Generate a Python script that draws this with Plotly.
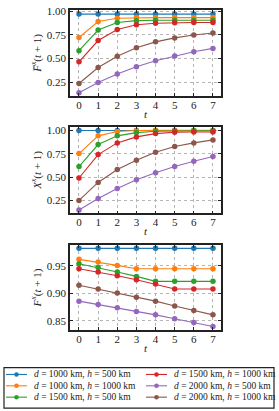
import plotly.graph_objects as go

W, H = 279, 411

t = [0, 1, 2, 3, 4, 5, 6, 7]

labels = [
    "<i>d</i> = 1000 km, <i>h</i> = 500 km",
    "<i>d</i> = 1000 km, <i>h</i> = 1000 km",
    "<i>d</i> = 1500 km, <i>h</i> = 500 km",
    "<i>d</i> = 1500 km, <i>h</i> = 1000 km",
    "<i>d</i> = 2000 km, <i>h</i> = 500 km",
    "<i>d</i> = 2000 km, <i>h</i> = 1000 km",
]
colors = ["#1f77b4", "#ff7f0e", "#2ca02c", "#d62728", "#9467bd", "#8c564b"]

# Panel 1: F-bar^x(t+1)
fbar_blue = [0.968, 0.968, 0.968, 0.968, 0.968, 0.968, 0.968, 0.968]
fbar_orange = [0.721, 0.890, 0.925, 0.931, 0.931, 0.931, 0.931, 0.931]
fbar_green = [0.582, 0.800, 0.879, 0.899, 0.903, 0.903, 0.903, 0.903]
fbar_red = [0.464, 0.689, 0.806, 0.855, 0.872, 0.878, 0.879, 0.879]
fbar_purple = [0.139, 0.247, 0.336, 0.412, 0.475, 0.527, 0.571, 0.606]
fbar_brown = [0.236, 0.404, 0.523, 0.613, 0.675, 0.717, 0.748, 0.768]

# Panel 2: X^x(t+1)
x_blue = [0.998, 0.998, 0.998, 0.998, 0.998, 0.998, 0.998, 0.998]
x_orange = [0.751, 0.940, 0.986, 0.997, 0.999, 0.999, 0.999, 0.999]
x_green = [0.612, 0.847, 0.940, 0.975, 0.989, 0.993, 0.994, 0.994]
x_red = [0.490, 0.740, 0.865, 0.929, 0.964, 0.979, 0.982, 0.982]
x_purple = [0.147, 0.271, 0.378, 0.470, 0.545, 0.612, 0.669, 0.719]
x_brown = [0.250, 0.442, 0.580, 0.680, 0.765, 0.826, 0.865, 0.897]

# Panel 3: F^x(t+1)
f_blue = [0.982, 0.982, 0.982, 0.982, 0.982, 0.982, 0.982, 0.982]
f_orange = [0.962, 0.957, 0.951, 0.945, 0.945, 0.945, 0.945, 0.945]
f_green = [0.954, 0.947, 0.939, 0.931, 0.922, 0.922, 0.922, 0.922]
f_red = [0.945, 0.939, 0.932, 0.925, 0.917, 0.908, 0.908, 0.908]
f_purple = [0.886, 0.880, 0.874, 0.867, 0.861, 0.854, 0.847, 0.840]
f_brown = [0.915, 0.908, 0.901, 0.893, 0.886, 0.877, 0.869, 0.861]

panels = [
    [fbar_blue, fbar_orange, fbar_green, fbar_red, fbar_purple, fbar_brown],
    [x_blue, x_orange, x_green, x_red, x_purple, x_brown],
    [f_blue, f_orange, f_green, f_red, f_purple, f_brown],
]
y_titles = [
    "<i>F\u0305<sup>x</sup></i>(<i>t</i> + 1)",
    "<i>X<sup>x</sup></i>(<i>t</i> + 1)",
    "<i>F<sup>x</sup></i>(<i>t</i> + 1)",
]
y_ticks = [
    [0.25, 0.50, 0.75, 1.00],
    [0.25, 0.50, 0.75, 1.00],
    [0.85, 0.90, 0.95],
]
y_ranges = [[0.105, 1.012], [0.111, 1.04], [0.8335, 0.988]]
x_range = [-0.47, 7.42]

# pixel geometry (top, bottom) of each panel
panel_px = [(5, 92), (123, 211), (243, 329)]
x_px = (70, 221)

FONT = "Liberation Serif, Times New Roman, serif"
INK = "#222222"
fig = go.Figure()

for i, series in enumerate(panels):
    ax = "" if i == 0 else str(i + 1)
    for j, vals in enumerate(series):
        fig.add_trace(go.Scatter(
            x=t, y=vals, mode="lines+markers",
            line=dict(color=colors[j], width=1.1),
            marker=dict(color=colors[j], size=5.5, symbol="circle"),
            name=labels[j], showlegend=False,
            xaxis="x" + ax, yaxis="y" + ax,
        ))
    top, bot = panel_px[i]
    common = dict(
        showline=True, linecolor=INK, linewidth=1.5, mirror="allticks",
        ticks="inside", ticklen=3, tickwidth=0.8, tickcolor=INK,
        showgrid=True, gridcolor="#b5b5b5", griddash="dot", gridwidth=0.8,
        zeroline=False, tickfont=dict(family=FONT, size=11, color=INK),
    )
    fig.layout["xaxis" + ax] = dict(
        common, domain=[x_px[0] / W, x_px[1] / W], range=x_range,
        tickvals=t, anchor="y" + ax, ticklabelstandoff=-2,
        title=dict(text="<i>t</i>", font=dict(family=FONT, size=11, color=INK), standoff=0),
    )
    fig.layout["yaxis" + ax] = dict(
        common, domain=[1 - bot / H, 1 - top / H], range=y_ranges[i],
        tickvals=y_ticks[i], tickformat=".2f", anchor="x" + ax,
        title=dict(text=y_titles[i], font=dict(family=FONT, size=11, color=INK), standoff=3),
    )

# manual legend (two columns, column-major order)
shapes = []
annotations = []
lx0, ly0, lx1, ly1 = 4, 367, 274, 408
shapes.append(dict(type="rect", xref="paper", yref="paper",
                   x0=lx0 / W, x1=lx1 / W, y0=1 - ly1 / H, y1=1 - ly0 / H,
                   line=dict(color=INK, width=1.2), fillcolor="white", layer="below"))
row_y = [374, 385.5, 397]
col_x = [(6, 27), (146, 167)]
for k, lab in enumerate(labels):
    c, r = divmod(k, 3)
    xa, xb = col_x[c]
    yy = 1 - row_y[r] / H
    shapes.append(dict(type="line", xref="paper", yref="paper",
                       x0=xa / W, x1=xb / W, y0=yy, y1=yy,
                       line=dict(color=colors[k], width=1.1)))
    xm = (xa + xb) / 2
    rad = 2.3
    shapes.append(dict(type="circle", xref="paper", yref="paper",
                       x0=(xm - rad) / W, x1=(xm + rad) / W,
                       y0=1 - (row_y[r] + rad) / H, y1=1 - (row_y[r] - rad) / H,
                       line=dict(color=colors[k], width=0), fillcolor=colors[k]))
    annotations.append(dict(xref="paper", yref="paper", x=(xb + 5) / W, y=yy,
                            xanchor="left", yanchor="middle", showarrow=False,
                            text=lab, font=dict(family=FONT, size=9.5, color=INK)))

fig.update_layout(
    width=W, height=H, margin=dict(l=0, r=0, t=0, b=0),
    paper_bgcolor="white", plot_bgcolor="white",
    font=dict(family=FONT, size=10, color=INK),
    shapes=shapes, annotations=annotations, showlegend=False,
)

fig.write_html("out.html", config={"displayModeBar": False},
               post_script="document.body.style.margin='0px';")
